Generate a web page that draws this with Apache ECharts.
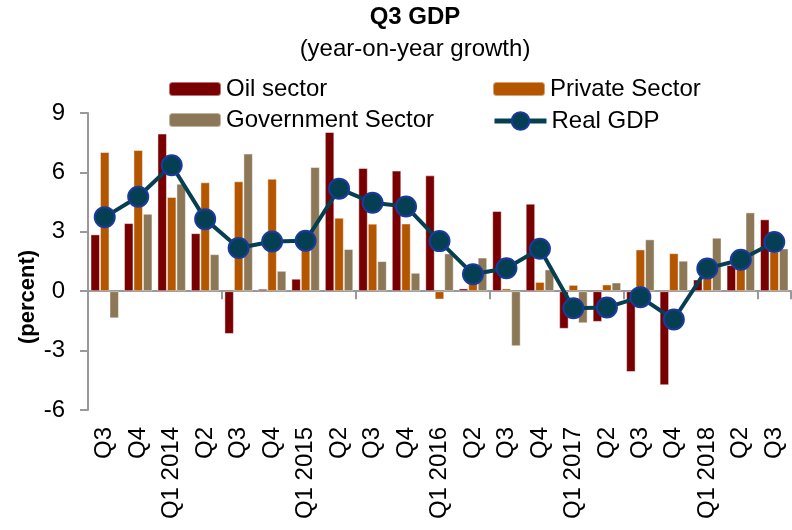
<!DOCTYPE html>
<html>
<head>
<meta charset="utf-8">
<script src="https://cdn.jsdelivr.net/npm/echarts@6/dist/echarts.min.js"></script>
<style>
  html, body { margin: 0; padding: 0; background: #fff; }
  #main { width: 792px; height: 530px; }
</style>
</head>
<body>
<div id="main"></div>
<script>
var categories = ['Q3','Q4','Q1 2014','Q2','Q3','Q4','Q1 2015','Q2','Q3','Q4','Q1 2016','Q2','Q3','Q4','Q1 2017','Q2','Q3','Q4','Q1 2018','Q2','Q3'];
var oilSector = [2.87, 3.44, 7.96, 2.93, -2.16, 0.12, 0.63, 8.04, 6.22, 6.09, 5.85, 0.14, 4.05, 4.42, -1.90, -1.55, -4.08, -4.75, 0.59, 1.32, 3.63];
var privateSector = [7.03, 7.13, 4.76, 5.50, 5.55, 5.68, 2.3, 3.71, 3.41, 3.42, -0.42, 0.8, 0.14, 0.47, 0.32, 0.34, 2.11, 1.92, 0.8, 1.2, 2.0];
var govSector = [-1.37, 3.91, 5.43, 1.87, 6.95, 1.03, 6.27, 2.13, 1.52, 0.93, 1.91, 1.70, -2.78, 1.10, -1.62, 0.44, 2.62, 1.54, 2.70, 3.98, 2.16];
var realGdp = [3.74, 4.77, 6.36, 3.64, 2.18, 2.51, 2.55, 5.18, 4.47, 4.28, 2.53, 0.86, 1.16, 2.14, -0.86, -0.82, -0.30, -1.43, 1.15, 1.59, 2.48];

var font = 'Liberation Sans';
var myChart = echarts.init(document.getElementById('main'));

var legendText = { fontFamily: font, fontSize: 24, color: '#000', lineHeight: 24 };

var option = {
    animation: false,
    title: {
        text: 'Q3 GDP',
        subtext: '(year-on-year growth)',
        left: 415,
        top: 5,
        textAlign: 'center',
        padding: 0,
        itemGap: 8,
        textStyle: { fontFamily: font, fontSize: 24, fontWeight: 'bold', color: '#000' },
        subtextStyle: { fontFamily: font, fontSize: 24, color: '#000' }
    },
    legend: [{
        data: ['Oil sector', 'Government Sector'],
        orient: 'vertical',
        left: 168,
        top: 77,
        padding: 0,
        itemWidth: 52,
        itemHeight: 14,
        itemGap: 7,
        textStyle: legendText
    }, {
        data: ['Private Sector'],
        left: 492,
        top: 77,
        padding: 0,
        itemWidth: 52,
        itemHeight: 14,
        textStyle: legendText
    }, {
        data: ['Real GDP'],
        left: 492,
        top: 109,
        padding: 0,
        itemWidth: 52,
        itemHeight: 22,
        lineStyle: { width: 5 },
        textStyle: legendText
    }],
    grid: { left: 88, right: 1, top: 113, bottom: 120, containLabel: false },
    xAxis: [{
        type: 'category',
        data: categories,
        axisLine: { onZero: true, lineStyle: { color: '#999', width: 2 } },
        axisTick: { show: true, interval: 3, length: 8, lineStyle: { color: '#999', width: 2 } },
        axisLabel: { show: false }
    }, {
        type: 'category',
        data: categories,
        position: 'bottom',
        axisLine: { show: false, onZero: false },
        axisTick: { show: false },
        axisLabel: {
            interval: 0,
            rotate: 90,
            margin: 17,
            fontFamily: font,
            fontSize: 24,
            color: '#000'
        }
    }],
    yAxis: {
        type: 'value',
        min: -6,
        max: 9,
        interval: 3,
        splitLine: { show: false },
        axisLine: { show: true, lineStyle: { color: '#999', width: 2 } },
        axisTick: { show: true, length: 8, lineStyle: { color: '#999', width: 2 } },
        axisLabel: { margin: 23, fontFamily: font, fontSize: 24, color: '#000' }
    },
    graphic: [{
        type: 'text',
        x: 28,
        y: 297,
        rotation: Math.PI / 2,
        style: {
            text: '(percent)',
            fontFamily: font,
            fontSize: 22,
            fontWeight: 'bold',
            fill: '#000',
            align: 'center',
            verticalAlign: 'middle'
        }
    }],
    series: [{
        name: 'Oil sector',
        type: 'bar',
        data: oilSector,
        barGap: '0%',
        barCategoryGap: '15%',
        itemStyle: { color: '#780000', borderColor: 'rgba(255,255,255,0.45)', borderWidth: 1 }
    }, {
        name: 'Private Sector',
        type: 'bar',
        data: privateSector,
        itemStyle: { color: '#B45500', borderColor: 'rgba(255,255,255,0.45)', borderWidth: 1 }
    }, {
        name: 'Government Sector',
        type: 'bar',
        data: govSector,
        itemStyle: { color: '#8C7856', borderColor: 'rgba(255,255,255,0.45)', borderWidth: 1 }
    }, {
        name: 'Real GDP',
        type: 'line',
        data: realGdp,
        symbol: 'circle',
        symbolSize: 20,
        z: 5,
        lineStyle: { color: '#063F52', width: 4 },
        itemStyle: { color: '#053F53', borderColor: '#1A3A9C', borderWidth: 2 }
    }]
};

myChart.setOption(option);
</script>
</body>
</html>
